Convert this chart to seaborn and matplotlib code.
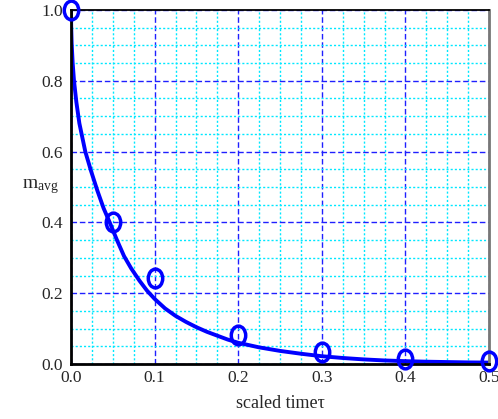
import numpy as np
import matplotlib
matplotlib.use("Agg")
import matplotlib.pyplot as plt
from matplotlib.path import Path
from matplotlib.transforms import Affine2D
from matplotlib.ticker import MultipleLocator
import seaborn as sns

# measured average moisture vs scaled time
t_meas = [0.0, 0.05, 0.1, 0.2, 0.3, 0.4, 0.5]
m_meas = [1.0, 0.40, 0.243, 0.082, 0.034, 0.014, 0.008]

# model curve
t_model = [0.0, 0.0002, 0.0008, 0.002, 0.0036, 0.0064, 0.010, 0.0171, 0.024,
           0.0315, 0.039, 0.0463, 0.055, 0.0634, 0.072, 0.082, 0.091, 0.1,
           0.1125, 0.125, 0.1375, 0.15, 0.1625, 0.175, 0.1875, 0.2, 0.225,
           0.25, 0.275, 0.3, 0.325, 0.35, 0.375, 0.4, 0.425, 0.45, 0.475, 0.5]
m_model = [1.0, 0.955, 0.905, 0.85, 0.80, 0.74, 0.68, 0.60, 0.545,
           0.49, 0.44, 0.40, 0.35, 0.305, 0.27, 0.235, 0.207, 0.184,
           0.157, 0.136, 0.119, 0.104, 0.091, 0.080, 0.069, 0.060, 0.047,
           0.037, 0.029, 0.022, 0.017, 0.013, 0.010, 0.008, 0.0065, 0.0055, 0.0045, 0.004]

x_ticks = [0.0, 0.1, 0.2, 0.3, 0.4, 0.5]
y_ticks = [0.0, 0.2, 0.4, 0.6, 0.8, 1.0]

sns.set_style("white")
plt.rcParams["font.family"] = ["Liberation Serif", "DejaVu Serif"]
plt.rcParams["mathtext.fontset"] = "custom"
plt.rcParams["mathtext.rm"] = "Liberation Serif"
plt.rcParams["mathtext.it"] = "Liberation Serif:italic"

fig = plt.figure(figsize=(4.98, 4.19), dpi=100)
ax = fig.add_axes([71 / 498, 55 / 419, 418 / 498, 354 / 419])

# grid
ax.xaxis.set_minor_locator(MultipleLocator(0.025))
ax.yaxis.set_minor_locator(MultipleLocator(0.05))
ax.set_xticks(x_ticks)
ax.set_yticks(y_ticks)
ax.grid(which="minor", color="#00e8ff", linestyle=(0, (1.5, 1.5)), linewidth=1.0)
ax.grid(which="major", color="#2020ff", linestyle=(0, (4, 2)), linewidth=1.0)
ax.set_axisbelow(True)

sns.lineplot(x=t_model, y=m_model, ax=ax, color="#0000ff", linewidth=2.8,
             sort=False, estimator=None)

ellipse = Path.unit_circle().transformed(Affine2D().scale(1.0, 1.3))
sns.lineplot(x=t_meas, y=m_meas, ax=ax, linestyle="", marker=ellipse,
             markersize=13.5, markerfacecolor="none", markeredgecolor="#0000ff",
             markeredgewidth=2.5, estimator=None, clip_on=False, zorder=5)

ax.set_xlim(0, 0.5)
ax.set_ylim(0, 1.0)
ax.set_xticklabels([f"{v:.1f}" for v in x_ticks])
ax.set_yticklabels([f"{v:.1f}" for v in y_ticks])

ax.tick_params(which="major", direction="in", length=11, width=1.3,
               labelsize=12.5, color="black", pad=4, top=False, right=False)
ax.tick_params(which="minor", direction="in", length=6, width=1.3,
               color="black", top=False, right=False)
ax.tick_params(axis="y", which="major", pad=6)

for side in ("left", "bottom"):
    ax.spines[side].set_color("black")
    ax.spines[side].set_linewidth(2.0)
ax.spines["top"].set_color("black")
ax.spines["top"].set_linewidth(1.3)
ax.spines["right"].set_color("#777777")
ax.spines["right"].set_linewidth(2.0)

ax.set_xlabel("scaled timeτ", fontsize=13, labelpad=7)
ax.set_ylabel(r"m$_{\rm avg}$", fontsize=14, rotation=0, labelpad=0, va="center")
ax.yaxis.set_label_coords(-0.074, 0.50)

fig.savefig("out.png", dpi=100)
